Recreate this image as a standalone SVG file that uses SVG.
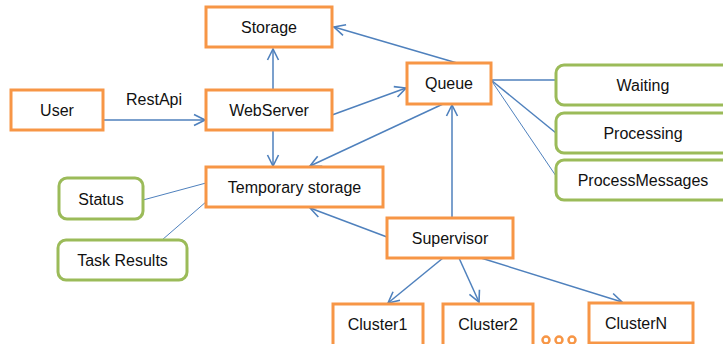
<svg xmlns="http://www.w3.org/2000/svg" width="723" height="344" viewBox="0 0 723 344">
<style>
.o{fill:#fff;stroke:#F79646;stroke-width:3}
.g{fill:#fff;stroke:#9BBB59;stroke-width:3}
text{font-family:"Liberation Sans",Arial,sans-serif;font-size:16px;fill:#111;text-anchor:middle}
.c line{stroke:#4F81BD;stroke-width:1.5;fill:none}
.c line.a{marker-end:url(#ah)}
.c line.t{stroke-width:1}
.d{fill:#fff;stroke:#F79646;stroke-width:2.5}
</style>
<defs>
<marker id="ah" markerUnits="userSpaceOnUse" markerWidth="14" markerHeight="14" viewBox="0 0 14 14" refX="13" refY="7" orient="auto">
<path d="M2,1.5 L13,7 L2,12.5" fill="none" stroke="#4F81BD" stroke-width="1.6"/>
</marker>
</defs>
<g class="c" id="connectors">
<line class="a" x1="103" y1="120" x2="205" y2="120"/>
<line class="a" x1="273" y1="90" x2="273" y2="49"/>
<line class="a" x1="273" y1="130" x2="273" y2="166"/>
<line class="a" x1="457" y1="63" x2="334" y2="27"/>
<line class="a" x1="332" y1="115" x2="406" y2="88"/>
<line class="a" x1="443" y1="104" x2="310" y2="166"/>
<line class="a" x1="452" y1="218" x2="452" y2="105"/>
<line class="a" x1="387" y1="237" x2="310" y2="208"/>
<line class="a" x1="443" y1="258" x2="388" y2="303"/>
<line class="a" x1="459" y1="258" x2="479" y2="302"/>
<line class="a" x1="481" y1="258" x2="622" y2="302"/>
<line x1="491" y1="80" x2="556" y2="80"/>
<line x1="491" y1="80" x2="556" y2="133"/>
<line class="t" x1="491" y1="80" x2="556" y2="176"/>
<line class="t" x1="206" y1="183" x2="143" y2="200"/>
<line class="t" x1="207" y1="201" x2="162" y2="240"/>
</g>
<text x="154" y="105">RestApi</text>
<g id="storage"><rect class="o" x="206" y="7" width="126" height="40"/><text x="269" y="33">Storage</text></g>
<g id="user"><rect class="o" x="11" y="90" width="92" height="40"/><text x="57" y="116">User</text></g>
<g id="webserver"><rect class="o" x="206" y="90" width="126" height="40"/><text x="269" y="116">WebServer</text></g>
<g id="queue"><rect class="o" x="407" y="63" width="84" height="41"/><text x="449" y="89">Queue</text></g>
<g id="temp"><rect class="o" x="206" y="167" width="177" height="40"/><text x="294.5" y="193">Temporary storage</text></g>
<g id="waiting"><rect class="g" x="556" y="65" width="180" height="40" rx="8"/><text x="643" y="91">Waiting</text></g>
<g id="processing"><rect class="g" x="556" y="113" width="180" height="40" rx="8"/><text x="643" y="139">Processing</text></g>
<g id="processmessages"><rect class="g" x="556" y="160" width="180" height="40" rx="8"/><text x="643" y="186">ProcessMessages</text></g>
<g id="status"><rect class="g" x="59" y="178" width="84" height="41" rx="8"/><text x="101" y="205">Status</text></g>
<g id="taskresults"><rect class="g" x="58" y="240" width="129" height="40" rx="8"/><text x="122.5" y="266">Task Results</text></g>
<g id="supervisor"><rect class="o" x="387" y="218" width="126" height="40"/><text x="450" y="244">Supervisor</text></g>
<g id="cluster1"><rect class="o" x="333" y="304" width="90" height="42"/><text x="377.5" y="330">Cluster1</text></g>
<g id="cluster2"><rect class="o" x="443" y="304" width="90" height="42"/><text x="488" y="330">Cluster2</text></g>
<g id="clustern"><rect class="o" x="589" y="303" width="104" height="40"/><text x="636" y="329">ClusterN</text></g>
<g id="dots"><circle class="d" cx="546" cy="340" r="3.5"/><circle class="d" cx="559" cy="340" r="3.5"/><circle class="d" cx="572" cy="340" r="3.5"/></g>
</svg>
